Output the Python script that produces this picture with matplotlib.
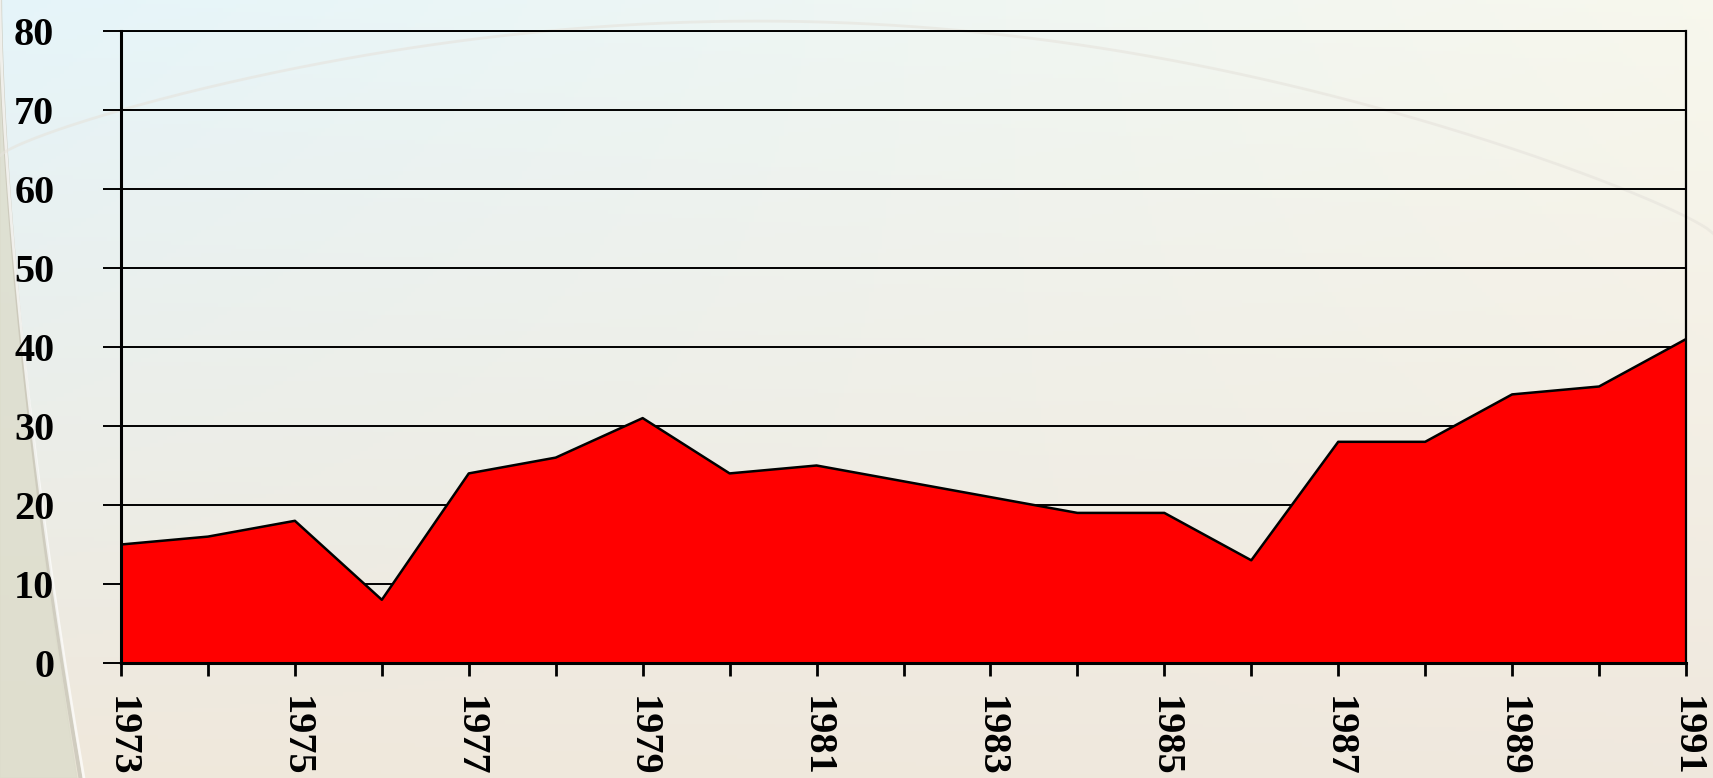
import numpy as np
import matplotlib; matplotlib.use("Agg"); import matplotlib.pyplot as plt

years = [1973, 1974, 1975, 1976, 1977, 1978, 1979, 1980, 1981, 1982,
         1983, 1984, 1985, 1986, 1987, 1988, 1989, 1990, 1991]
values = [15, 16, 18, 8, 24, 26, 31, 24, 25, 23,
          21, 19, 19, 13, 28, 28, 34, 35, 41]
yticks = [0, 10, 20, 30, 40, 50, 60, 70, 80]
label_years = years[::2]

plt.rcParams["font.family"] = ["Liberation Serif", "DejaVu Serif"]
plt.rcParams["font.weight"] = "bold"

fig = plt.figure(figsize=(17.13, 7.78), dpi=100)

# background: soft blue-to-beige gradient like the slide template
bg = fig.add_axes([0, 0, 1, 1], zorder=-10)
h, w = 200, 400
yy, xx = np.mgrid[0:1:h * 1j, 0:1:w * 1j]
tl = np.array([0.90, 0.96, 0.98]); tr = np.array([0.97, 0.97, 0.93])
bl = np.array([0.94, 0.91, 0.86]); br = np.array([0.94, 0.91, 0.87])
img = ((1 - yy)[..., None] * ((1 - xx)[..., None] * tl + xx[..., None] * tr)
       + yy[..., None] * ((1 - xx)[..., None] * bl + xx[..., None] * br))
bg.imshow(img, extent=[0, 1, 0, 1], aspect="auto", origin="upper")
t = np.linspace(0, 1, 200)
bg.fill_betweenx(t, 0, 0.045 * (1 - t) ** 1.6, color="#dcdccb", alpha=0.8)
bg.plot(0.047 * (1 - t) ** 1.6, t, color="#c9c6b8", lw=3, alpha=0.8)
bg.plot(0.049 * (1 - t) ** 1.6, t, color="white", lw=2, alpha=0.7)
xs = np.linspace(0, 1, 300)
bg.plot(xs, 0.80 + 0.22 * np.sin(np.pi * xs) ** 0.8 - 0.1 * xs, color="#e6e3dc", lw=2, alpha=0.6)
bg.set_xlim(0, 1); bg.set_ylim(0, 1); bg.axis("off")

ax = fig.add_axes([121 / 1713, 1 - 663 / 778, (1686 - 121) / 1713, 632 / 778])
ax.patch.set_alpha(0)
ax.fill_between(years, values, 0, facecolor="#ff0000", edgecolor="none", zorder=2)
ax.plot(years, values, color="black", lw=1.8, zorder=3)

ax.set_xlim(years[0], years[-1])
ax.set_ylim(0, 80)
ax.set_yticks(yticks)
ax.set_xticks(years)
ax.set_xticklabels([str(y) if y in label_years else "" for y in years],
                   rotation=270, fontsize=29, fontweight="bold")
ax.set_yticklabels([str(v) for v in yticks], fontsize=29, fontweight="bold")
ax.yaxis.grid(True, color="black", lw=1.4, zorder=0)
ax.set_axisbelow(True)
ax.tick_params(axis="y", length=13, width=1.4, pad=35)
ax.tick_params(axis="x", length=9, width=2, pad=15)
for s in ax.spines.values():
    s.set_linewidth(2.2); s.set_zorder(4)
ax.spines["top"].set_linewidth(1.4)
ax.spines["right"].set_linewidth(1.6)

fig.savefig("out.png", dpi=100)
